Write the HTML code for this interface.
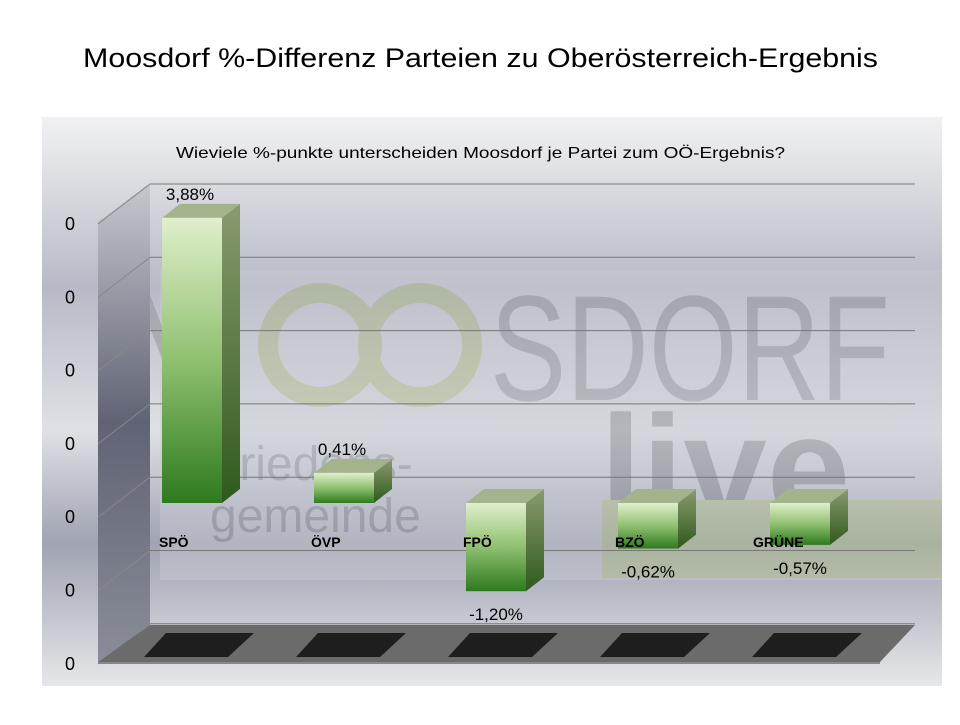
<!DOCTYPE html>
<html><head><meta charset="utf-8"><style>
body{margin:0;background:#fff;width:960px;height:720px;overflow:hidden;font-family:"Liberation Sans",sans-serif}
</style></head><body>
<svg width="960" height="720" viewBox="0 0 960 720">
<defs>
<linearGradient id="bg" x1="0" y1="0" x2="0" y2="1">
<stop offset="0" stop-color="#f2f2f4"/><stop offset="0.3" stop-color="#b7bac6"/><stop offset="0.55" stop-color="#dfe1e6"/><stop offset="0.75" stop-color="#9fa3b2"/><stop offset="1" stop-color="#e6e7ea"/></linearGradient>
<linearGradient id="wall" x1="0" y1="0" x2="0" y2="1">
<stop offset="0" stop-color="#c6c8cf"/><stop offset="0.5" stop-color="#5f6373"/><stop offset="1" stop-color="#8a8d99"/></linearGradient>
<linearGradient id="front" x1="0" y1="0" x2="0" y2="1">
<stop offset="0" stop-color="#e0efcc"/><stop offset="0.5" stop-color="#8fc070"/><stop offset="1" stop-color="#2e7a1e"/></linearGradient>
<linearGradient id="side" x1="0" y1="0" x2="0" y2="1">
<stop offset="0" stop-color="#8a9a70"/><stop offset="1" stop-color="#2f5a1c"/></linearGradient>
</defs>
<rect x="0" y="0" width="960" height="720" fill="#fff"/>
<text x="83" y="67" font-size="27" fill="#000" textLength="795" lengthAdjust="spacingAndGlyphs">Moosdorf  %-Differenz Parteien zu Oberösterreich-Ergebnis</text>
<rect x="42" y="117" width="900" height="569" fill="url(#bg)"/>
<text x="176" y="158" font-size="16" fill="#000" textLength="609" lengthAdjust="spacingAndGlyphs">Wieviele %-punkte unterscheiden Moosdorf je Partei zum OÖ-Ergebnis?</text>
<g opacity="0.45">
<rect x="160" y="270" width="782" height="310" fill="#c9ccd4"/>
<text x="120" y="400" font-size="150" fill="#8a8d92">M</text>
<circle cx="320" cy="345" r="52" fill="none" stroke="#a8b880" stroke-width="20"/>
<circle cx="420" cy="345" r="52" fill="none" stroke="#a8b880" stroke-width="20"/>
<text x="490" y="400" font-size="150" fill="#8a8d92" textLength="400" lengthAdjust="spacingAndGlyphs">SDORF</text>
<text x="210" y="480" font-size="48" fill="#8a8d92">Friedens-</text>
<text x="210" y="532" font-size="48" fill="#8a8d92">gemeinde</text>
<text x="600" y="520" font-size="150" fill="#7f8288" font-weight="bold">live</text>
<rect x="602" y="500" width="340" height="78" fill="#b5c78c"/>
</g>
<g id="axes"></g>
<g id="bars"></g>
</svg>
<script>
const categories=["SPÖ","ÖVP","FPÖ","BZÖ","GRÜNE"];
const values=[3.88,0.41,-1.20,-0.62,-0.57];
const valueLabels=["3,88%","0,41%","-1,20%","-0,62%","-0,57%"];
const tickLabels=["0","0","0","0","0","0","0"];
const NS="http://www.w3.org/2000/svg";
function mk(t,a,p){const e=document.createElementNS(NS,t);for(const k in a)e.setAttribute(k,a[k]);p.appendChild(e);return e;}
const zeroY=503, pxPer=73.5;
function y(v){return zeroY-v*pxPer;}
function x(i){return 162+i*152;}
const ax=document.getElementById('axes');
const w=mk('polygon',{points:"98,222 150,183 150,625 98,662",fill:"url(#wall)"},ax);

tickLabels.forEach((t,i)=>{
 const fy=224+i*73.3, by=fy-40;
 const g=mk('line',{x1:150,y1:by,x2:915,y2:by,stroke:"#777","stroke-width":1},ax);
 
 mk('line',{x1:98,y1:fy,x2:150,y2:by,stroke:"#888","stroke-width":1},ax);
 const tx=mk('text',{x:70,y:fy+6,"font-size":18,"text-anchor":"middle",fill:"#000"},ax);
 tx.textContent=t;
 
});
const fl=mk('polygon',{points:"98,662 150,625 915,625 880,662",fill:"#6b6b6b"},ax);

mk('polygon',{points:"98,662 880,662 880,664 98,664",fill:"#888"},ax);
categories.forEach((c,i)=>{
 const s=mk('polygon',{points:`${x(i)-18},657 ${x(i)+4},633 ${x(i)+92},633 ${x(i)+66},657`,fill:"#1e1e1e"},ax);
 
});
const bg=document.getElementById('bars');
categories.forEach((c,i)=>{
 const v=values[i], x0=x(i), wd=60, dx=18, dy=14;
 const top=Math.min(y(v),zeroY), bot=Math.max(y(v),zeroY);
 const g=mk('g',{},bg);
 
 
 mk('polygon',{points:`${x0+wd},${top} ${x0+wd+dx},${top-dy} ${x0+wd+dx},${bot-dy} ${x0+wd},${bot}`,fill:"url(#side)"},g);
 mk('polygon',{points:`${x0},${top} ${x0+dx},${top-dy} ${x0+wd+dx},${top-dy} ${x0+wd},${top}`,fill:"#a3b48c"},g);
 mk('rect',{x:x0,y:top,width:wd,height:bot-top,fill:"url(#front)"},g);
 const ly=v>=0?top-18:bot+29;
 const lt=mk('text',{x:v>=0?x0+28:x0+30,y:ly,"font-size":17,"text-anchor":"middle",fill:"#000"},bg);
 lt.textContent=valueLabels[i];
 
 const cl=mk('text',{x:x0-3+(i==4?-14:0),y:547,"font-size":14,"font-weight":"bold",fill:"#000"},bg);
 cl.textContent=c;
 
});
</script>
</body></html>
